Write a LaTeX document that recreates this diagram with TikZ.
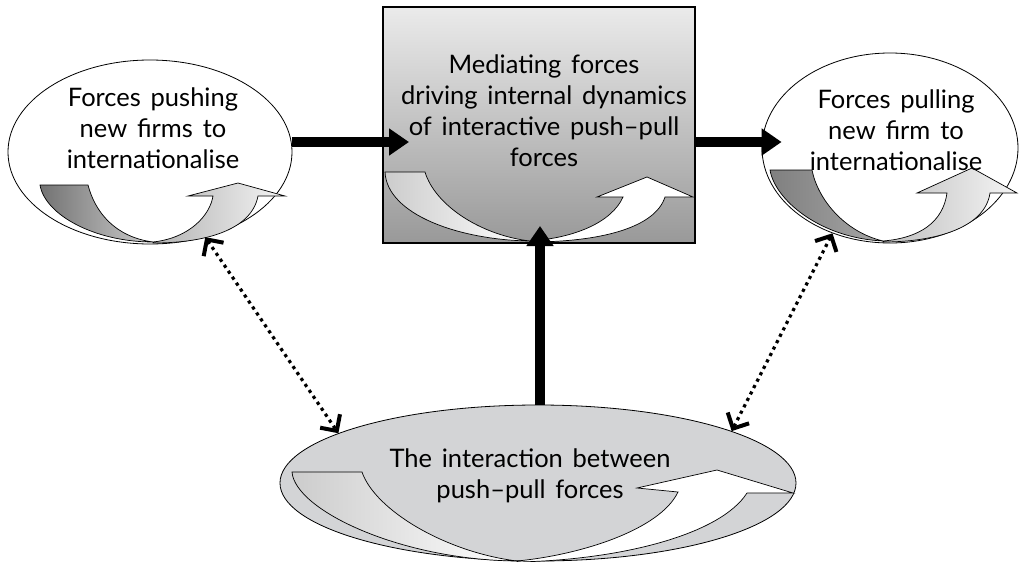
\documentclass[tikz,border=0pt]{standalone}
\usepackage{fontspec}
\setmainfont{Lato}[WordSpace=1.5]
\usetikzlibrary{arrows.meta,shapes.geometric}
\definecolor{ovalgray}{RGB}{211,212,214}
\tikzset{
  oval/.style={draw, ellipse, inner sep=0pt, line width=0.8pt},
  lbl/.style={align=center, font=\fontsize{25.5}{31}\selectfont, inner sep=0pt},
  arm/.style={draw, line width=0.7pt},
  bigarrow/.style={line width=10pt, -{Triangle[length=20pt,width=26pt]}},
  dotarrow/.style={line width=3.2pt, dash pattern=on 3.2pt off 4pt,
    {Straight Barb[length=12pt,width=24pt,line width=4pt]}-{Straight Barb[length=12pt,width=24pt,line width=4pt]}},
}
\begin{document}
\begin{tikzpicture}[x=1pt,y=-1pt]
\useasboundingbox (0,0) rectangle (1021,562);

% shapes
\node[oval, fill=white, minimum width=284pt, minimum height=184pt] (L) at (150,152) {};
\node[oval, fill=white, minimum width=256pt, minimum height=190pt] (R) at (890,148) {};
\node[oval, fill=ovalgray, minimum width=516pt, minimum height=156pt] (E) at (538,483) {};
\node[draw, line width=2pt, minimum width=312pt, minimum height=236pt, inner sep=0pt,
      top color=black!8, bottom color=black!40] (B) at (539,125) {};

% left ellipse arms
\shadedraw[arm, left color=black!55, right color=black!20]
  (40,185) -- (88,185) .. controls (95,212) and (115,237) .. (153,242)
  .. controls (95,242) and (45,215) .. (40,185) -- cycle;
\shadedraw[arm, left color=black!30, right color=black!4]
  (153,242) .. controls (190,238) and (210,215) .. (213,196) -- (188,196) -- (238,183)
  -- (285,196) -- (258,196) .. controls (252,228) and (210,243) .. (153,243) -- cycle;

% box arms
\shadedraw[arm, left color=black!20, right color=white]
  (385,172) -- (425,172) .. controls (435,205) and (480,235) .. (530,241)
  .. controls (460,240) and (387,215) .. (385,172) -- cycle;
\filldraw[arm, fill=white]
  (530,241) .. controls (575,238) and (612,222) .. (623,197) -- (597,197) -- (647,177)
  -- (693,197) -- (665,197) .. controls (655,228) and (600,242) .. (530,242) -- cycle;

% right ellipse arms
\shadedraw[arm, left color=black!50, right color=black!35]
  (770,170) -- (812,170) .. controls (818,200) and (845,232) .. (883,241)
  .. controls (820,238) and (775,200) .. (770,170) -- cycle;
\shadedraw[arm, left color=black!25, right color=black!4]
  (883,241) .. controls (920,238) and (943,222) .. (947,193) -- (917,193) -- (972,168)
  -- (1017,193) -- (990,193) .. controls (985,228) and (935,242) .. (883,242) -- cycle;

% bottom ellipse arms
\shadedraw[arm, left color=black!20, right color=white]
  (292,472) -- (362,472) .. controls (375,510) and (445,552) .. (517,561)
  .. controls (400,560) and (295,510) .. (292,472) -- cycle;
\filldraw[arm, fill=white]
  (517,561) .. controls (580,555) and (660,530) .. (678,492) -- (637,488) -- (717,470)
  -- (793,493) -- (747,493) .. controls (720,535) and (620,560) .. (517,562) -- cycle;

% texts
\node[lbl] (Lt) at (153,128) {Forces pushing\\new firms to\\internationalise};
\node[lbl] (Bt) at (544,111) {Mediating forces\\driving internal dynamics\\of interactive push–pull\\forces};
\node[lbl] (Rt) at (896,130) {Forces pulling\\new firm to\\internationalise};
\node[lbl] (Et) at (530,476) {The interaction between\\push–pull forces};

% connectors
\draw[bigarrow] ([yshift=10pt]L.east) -- ([xshift=27pt,yshift=-17pt]B.west);
\draw[bigarrow] ([yshift=-17pt]B.east) -- ([xshift=20pt,yshift=6pt]R.west);
\draw[bigarrow] ([xshift=2pt]E.north) -- ([xshift=1pt,yshift=18pt]B.south);
\draw[dotarrow] (L.-57) -- (E.166);
\draw[dotarrow] (R.-124) -- (E.15);
\end{tikzpicture}
\end{document}
